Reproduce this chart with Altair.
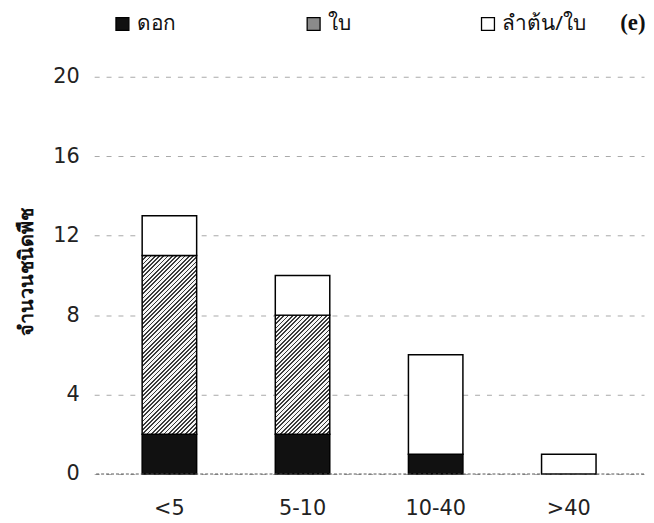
import altair as alt
import pandas as pd

categories = ["<5", "5-10", "10-40", ">40"]
series_names = ["ดอก", "ใบ", "ลำต้น/ใบ"]
flower = [2, 2, 1, 0]
leaf = [9, 6, 0, 0]
stem_leaf = [2, 2, 5, 1]
y_ticks = [0, 4, 8, 12, 16, 20]

W, H = 555, 401
BAR = 55
YMAX = 20

rows = []
for i, c in enumerate(categories):
    for k, (name, vals) in enumerate(zip(series_names, [flower, leaf, stem_leaf])):
        rows.append({"cat": c, "series": name, "v": vals[i], "ord": k})
df = pd.DataFrame(rows)


def hatch(w, h, period=4.3, dark="#3a3a3a", light="#f6f6f6", frac=0.42):
    r = w / h
    dy = (r + 1) / (r * r + 1)
    dx = r * dy
    n = max(1, round((w + h) / period))
    stops = []
    for k in range(n):
        a = k / n
        m = (k + frac) / n
        b = (k + 1) / n
        stops += [
            {"offset": round(a, 5), "color": dark},
            {"offset": round(m, 5), "color": dark},
            {"offset": round(m, 5), "color": light},
            {"offset": round(b, 5), "color": light},
        ]
    return {"gradient": "linear", "x1": 0, "y1": 0, "x2": dx, "y2": dy, "stops": stops}


conditions = []
for i, c in enumerate(categories):
    if leaf[i] > 0:
        conditions.append({
            "test": f"datum.series === 'ใบ' && datum.cat === '{c}'",
            "value": hatch(BAR, leaf[i] * H / YMAX),
        })

legend = alt.Legend(
    title=None, orient="none", legendX=18, legendY=-64, direction="horizontal",
    symbolType="square", symbolSize=170, symbolStrokeColor="black", symbolStrokeWidth=1.3,
    labelFont="Noto Sans", labelFontSize=21, labelColor="#111", labelOffset=4,
    columnPadding=128,
)

fill = alt.Fill(
    "series:N",
    scale=alt.Scale(domain=series_names, range=["#111111", "#8a8a8a", "#ffffff"]),
    legend=legend,
    condition=conditions,
)

bars = alt.Chart(df).transform_filter("datum.v > 0").mark_bar(
    size=BAR, stroke="black", strokeWidth=1.5
).encode(
    x=alt.X("cat:N", sort=categories,
            scale=alt.Scale(paddingInner=0.59, paddingOuter=0.36),
            axis=alt.Axis(title=None, domain=False, ticks=False, labelAngle=0,
                          labelPadding=24, labelFont="DejaVu Sans", labelFontSize=21,
                          labelColor="#222", grid=False)),
    y=alt.Y("v:Q", stack="zero", scale=alt.Scale(domain=[0, YMAX]),
            axis=alt.Axis(values=y_ticks, domain=False, ticks=False, labelPadding=15,
                          labelFont="DejaVu Sans", labelFontSize=21, labelColor="#222",
                          grid=True, gridColor="#a8a8a8", gridDash=[5, 7], gridWidth=1,
                          title="จำนวนชนิดพืช", titleFont="Noto Sans", titleFontWeight="bold",
                          titleFontSize=20, titleColor="#111", titleX=-68, titleY=H / 2 - 4,
                          titleBaseline="middle")),
    fill=fill,
    order=alt.Order("ord:Q", sort="ascending"),
)

zero = alt.Chart(pd.DataFrame({"v": [0]})).mark_rule(
    color="#555", strokeDash=[3, 2], strokeWidth=1
).encode(y=alt.Y("v:Q"))

tag = alt.Chart(pd.DataFrame({"t": ["(e)"]})).mark_text(
    font="Liberation Serif", fontWeight="bold", fontSize=23, align="left", baseline="middle",
    color="#111"
).encode(x=alt.value(626 - 95), y=alt.value(21 - 75), text="t:N")

chart = alt.layer(bars, zero, tag).properties(
    width=W, height=H,
    autosize=alt.AutoSizeParams(type="none"),
    padding={"left": 87, "top": 67, "right": 2, "bottom": 45},
    background="white",
).configure_view(stroke=None)

chart.save("out.html", embed_options={"renderer": "svg", "actions": False})
